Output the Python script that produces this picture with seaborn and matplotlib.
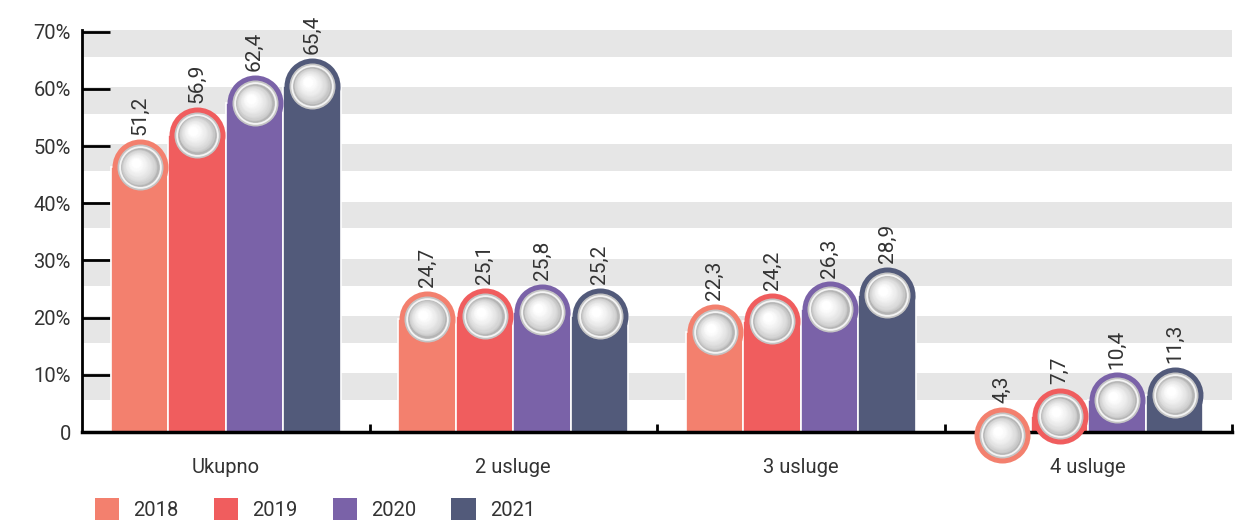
import numpy as np
import pandas as pd
import matplotlib
matplotlib.use("Agg")
import matplotlib.pyplot as plt
import matplotlib.transforms as mtransforms
from matplotlib.colors import to_rgb
from matplotlib.patches import Patch
import seaborn as sns

# data
categories = ["Ukupno", "2 usluge", "3 usluge", "4 usluge"]
years = ["2018", "2019", "2020", "2021"]
values_2018 = [51.2, 24.7, 22.3, 4.3]
values_2019 = [56.9, 25.1, 24.2, 7.7]
values_2020 = [62.4, 25.8, 26.3, 10.4]
values_2021 = [65.4, 25.2, 28.9, 11.3]
y_ticks = [0, 10, 20, 30, 40, 50, 60, 70]
y_tick_labels = ["0", "10%", "20%", "30%", "40%", "50%", "60%", "70%"]

colors = {"2018": "#F3806E", "2019": "#F05D5E", "2020": "#7A62A8", "2021": "#525A7A"}

sns.set_theme(style="white")
plt.rcParams['font.family'] = ['Roboto', 'DejaVu Sans']
TEXT = "#333333"

W, H, DPI = 1253, 521, 100
fig = plt.figure(figsize=(W / DPI, H / DPI), dpi=DPI)
ax = fig.add_axes([82 / W, 1 - 432 / H, (1232 - 82) / W, (432 - 30) / H])

YMAX = 70
px_per_unit = (432 - 30) / YMAX
R_PX = 28                      # radius of the rounded bar top in pixels
r_data = R_PX / px_per_unit

series = {"2018": values_2018, "2019": values_2019, "2020": values_2020, "2021": values_2021}
rows = []
for yr in years:
    for cat, v in zip(categories, series[yr]):
        rows.append({"category": cat, "year": yr, "value": v,
                     "bar": max(v - r_data, 0)})
df = pd.DataFrame(rows)

# background bands
for k in range(1, 8):
    ax.axhspan(k * 10 - 4.4, k * 10 + 0.3, color="#e6e6e6", lw=0, zorder=0)

sns.barplot(data=df, x="category", y="bar", hue="year", order=categories,
            hue_order=years, palette=colors, width=0.8, saturation=1,
            edgecolor="white", linewidth=1.2, legend=False, ax=ax, zorder=2)


def disk(x, y, r_px, color, dx=0.0, dy=0.0, z=4):
    trans = mtransforms.offset_copy(ax.transData, fig=fig, x=dx, y=dy, units="dots")
    ax.scatter([x], [y], s=(2 * r_px * 72 / DPI) ** 2, color=color, lw=0,
               transform=trans, clip_on=False, zorder=z)


light = np.array(to_rgb("#ffffff"))
dark = np.array(to_rgb("#b4b4b4"))

for yr, container in zip(years, ax.containers):
    for bar, v in zip(container, series[yr]):
        x = bar.get_x() + bar.get_width() / 2
        yc = v - r_data
        disk(x, yc, R_PX, colors[yr], z=4)
        disk(x, yc, 23.0, "#c4c4c4", z=5)
        disk(x, yc, 21.3, "#f4f4f4", z=6)
        disk(x, yc, 19.5, "#c0c0c0", z=7)
        for i, t in enumerate(np.linspace(0, 1, 16)):
            c = dark * (1 - t ** 0.5) + light * t ** 0.5
            disk(x, yc, 18.8 * (1 - 0.75 * t), c, dx=-4 * t, dy=4 * t, z=8 + i * 0.01)
        ax.text(x, v + 0.7, f"{v:.1f}".replace(".", ","), rotation=90,
                ha="center", va="bottom", fontsize=15, color=TEXT,
                clip_on=False, zorder=10)

ax.set_xlim(-0.5, 3.5)
ax.set_ylim(0, YMAX + 0.3)
ax.set_xlabel("")
ax.set_ylabel("")
ax.set_yticks(y_ticks, y_tick_labels)
ax.set_xticks(range(len(categories)), categories)
ax.set_xticks([0.5, 1.5, 2.5, 3.5], minor=True)
ax.tick_params(axis="y", direction="in", length=20, width=2, color="black",
               pad=8, labelsize=14.5, labelcolor=TEXT, left=True)
ax.tick_params(axis="x", which="major", length=0, pad=19, labelsize=14.5, labelcolor=TEXT)
ax.tick_params(axis="x", which="minor", direction="in", length=6, width=2,
               color="black", bottom=True)

for s in ["top", "right"]:
    ax.spines[s].set_visible(False)
ax.spines["left"].set_linewidth(2)
ax.spines["left"].set_color("black")
ax.spines["bottom"].set_linewidth(2.5)
ax.spines["bottom"].set_color("black")
ax.spines["bottom"].set_zorder(3)

handles = [Patch(facecolor=colors[y], edgecolor="none", label=y) for y in years]
fig.legend(handles=handles, loc="center left", bbox_to_anchor=(95 / W, 1 - 509 / H),
           ncol=4, frameon=False, fontsize=14.5, labelcolor=TEXT,
           handlelength=1.2, handleheight=1.25, handletextpad=0.7,
           columnspacing=1.75, borderpad=0, borderaxespad=0)

fig.savefig("out.png", dpi=DPI)
